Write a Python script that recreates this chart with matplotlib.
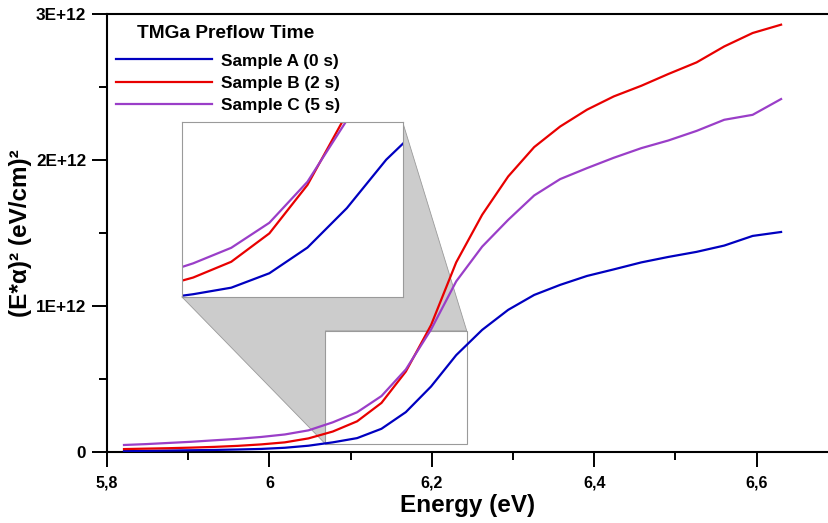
import numpy as np
import matplotlib.pyplot as plt
from matplotlib.patches import Polygon, Rectangle

plt.rcParams['font.family'] = ['Liberation Sans', 'DejaVu Sans']
plt.rcParams['font.weight'] = 'bold'

# photon energy (eV)
energy = [5.821, 5.848, 5.876, 5.904, 5.932, 5.961, 5.990, 6.019, 6.048,
          6.078, 6.108, 6.138, 6.168, 6.199, 6.230, 6.262, 6.294, 6.326,
          6.358, 6.391, 6.424, 6.458, 6.491, 6.526, 6.560, 6.595, 6.630]

# (E*alpha)^2 in units of 1E+12 (eV/cm)^2
sample_a = [0.008, 0.010, 0.012, 0.014, 0.016, 0.019, 0.023, 0.031, 0.045,
            0.068, 0.097, 0.161, 0.275, 0.450, 0.665, 0.838, 0.975, 1.077,
            1.146, 1.207, 1.252, 1.300, 1.337, 1.372, 1.415, 1.481, 1.508]
sample_b = [0.022, 0.025, 0.028, 0.032, 0.037, 0.044, 0.054, 0.068, 0.095,
            0.142, 0.212, 0.338, 0.553, 0.870, 1.300, 1.626, 1.888, 2.089,
            2.230, 2.345, 2.436, 2.509, 2.589, 2.669, 2.778, 2.870, 2.927]
sample_c = [0.050, 0.056, 0.064, 0.072, 0.082, 0.092, 0.105, 0.122, 0.150,
            0.205, 0.274, 0.385, 0.567, 0.840, 1.170, 1.408, 1.591, 1.758,
            1.870, 1.945, 2.016, 2.082, 2.134, 2.200, 2.276, 2.310, 2.418]

labels = ['Sample A (0 s)', 'Sample B (2 s)', 'Sample C (5 s)']
colors = ['#0000c0', '#e80000', '#9a3ec8']
legend_title = 'TMGa Preflow Time'

xticks = [5.8, 6.0, 6.2, 6.4, 6.6]
xticklabels = ['5,8', '6', '6,2', '6,4', '6,6']
yticks = [0, 1e12, 2e12, 3e12]
yticklabels = ['0', '1E+12', '2E+12', '3E+12']

# zoomed window
zx = (6.069, 6.243)
zy = (0.057e12, 0.831e12)

x = np.array(energy)
series = [np.array(s) * 1e12 for s in (sample_a, sample_b, sample_c)]

fig = plt.figure(figsize=(8.29, 5.23), dpi=100)
ax = fig.add_axes([0.129, 0.1352, 0.871, 0.838])

for y, lab, c in zip(series, labels, colors):
    ax.plot(x, y, color=c, lw=1.6, label=lab, zorder=3)

ax.set_xlim(5.8, 6.689)
ax.set_ylim(0, 3e12)
ax.set_xticks(xticks, xticklabels)
ax.set_yticks(yticks, yticklabels)
ax.set_xticks([5.9, 6.1, 6.3, 6.5], minor=True)
ax.set_yticks([0.5e12, 1.5e12, 2.5e12], minor=True)
ax.tick_params(which='major', direction='out', length=11, width=1.4)
ax.tick_params(which='minor', direction='out', length=5.5, width=1.4)
ax.tick_params(axis='x', pad=6, labelsize=11.5)
ax.tick_params(axis='y', pad=4, labelsize=12.3)
for s in ['left', 'bottom', 'top']:
    ax.spines[s].set_linewidth(1.5)
ax.spines['right'].set_visible(False)

ax.set_xlabel('Energy (eV)', fontsize=17.5, fontweight='bold', labelpad=2)
ax.set_ylabel('(E*α)² (eV/cm)²', fontsize=17.5, fontweight='bold', labelpad=3)

ax.text(0.0416, 0.955, legend_title, transform=ax.transAxes, fontsize=13.8,
        fontweight='bold', ha='left', va='center')
ax.legend(loc='upper left', frameon=False, fontsize=12.4,
          handlelength=5.6, handletextpad=0.52, labelspacing=0.42,
          bbox_to_anchor=(0.0125, 0.91), borderaxespad=0, borderpad=0)

# inset
ins = fig.add_axes([0.2192, 0.4327, 0.2666, 0.3335])
for y, c in zip(series, colors):
    ins.plot(x, y, color=c, lw=1.6)
ins.set_xlim(*zx)
ins.set_ylim(*zy)
ins.set_xticks([])
ins.set_yticks([])
for s in ins.spines.values():
    s.set_color('#9a9a9a')
    s.set_linewidth(0.8)
ins.set_zorder(5)

# rectangle marking zoomed window
ax.add_patch(Rectangle((zx[0], zy[0]), zx[1] - zx[0], zy[1] - zy[0],
                       fill=False, edgecolor='#9a9a9a', lw=0.8, zorder=2))

# connector shading between inset and window
to_data = ax.transData.inverted()
fb = ins.get_position()
corners = fig.transFigure.transform([[fb.x0, fb.y0], [fb.x1, fb.y1], [fb.x1, fb.y0]])
ibl, itr, ibr = to_data.transform(corners)
poly = Polygon([ibl, (zx[0], zy[0]), (zx[0], zy[1]), (zx[1], zy[1]), itr, ibr],
               closed=True, facecolor='#cccccc', edgecolor='#9a9a9a', lw=0.6, zorder=1)
ax.add_patch(poly)

fig.savefig('out.png', dpi=100)
